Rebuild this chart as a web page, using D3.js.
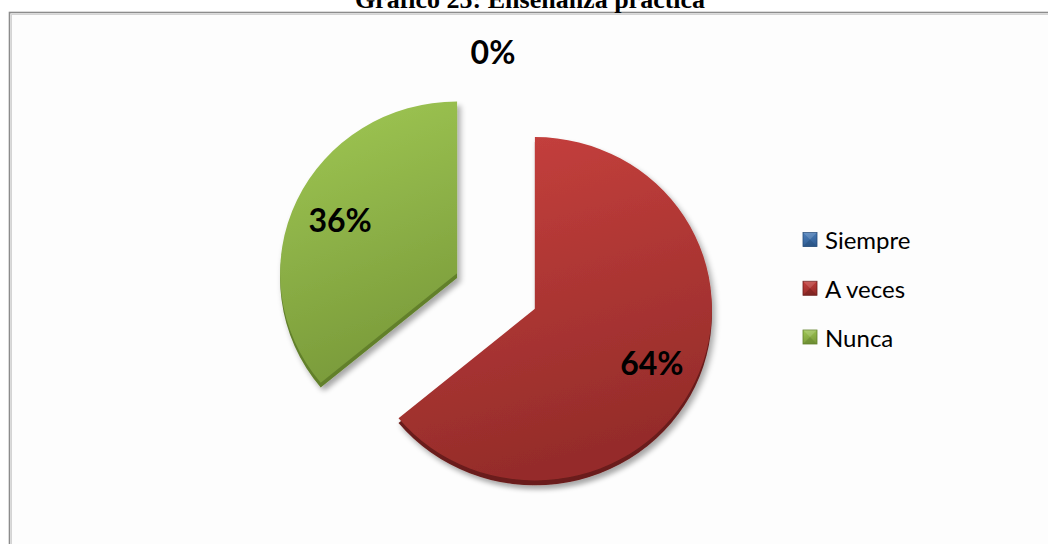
<!DOCTYPE html>
<html>
<head>
<meta charset="utf-8">
<script src="https://cdn.jsdelivr.net/npm/d3@7"></script>
<style>
  html, body { margin: 0; padding: 0; background: #ffffff; }
  svg { display: block; }
</style>
</head>
<body>
<svg id="chart" width="1048" height="544"></svg>
<script>
// Survey answers for "Enseñanza práctica"
const categories = ["Siempre", "A veces", "Nunca"];
const percentages = [0, 64, 36];
const chartTitle = "Gráfico 25: Enseñanza práctica";

// Palette: top / bottom of each slice gradient and the darker rim
const topColors = ["#4f81bd", "#c8413e", "#a0c854"];
const bottomColors = ["#2f5d93", "#952c2a", "#7b9c3b"];
const rimColors = ["#264d7a", "#6a1d1b", "#62802c"];

const svg = d3.select("#chart");
const W = 1048, H = 544;

// Frame of the chart area
svg.append("rect")
  .attr("x", 9.5).attr("y", 12.5)
  .attr("width", W + 20).attr("height", H + 20)
  .attr("fill", "#fdfdfd")
  .attr("stroke", "#8c8c8c")
  .attr("stroke-width", 1.6);
svg.append("rect")
  .attr("x", 11.5).attr("y", 14.5)
  .attr("width", W + 20).attr("height", H + 20)
  .attr("fill", "none")
  .attr("stroke", "#d4d4d4")
  .attr("stroke-width", 1);

// Title (sits above the frame)
svg.append("text")
  .attr("x", 530).attr("y", 8)
  .attr("text-anchor", "middle")
  .attr("font-family", "'Liberation Serif', 'Times New Roman', serif")
  .attr("font-weight", "bold")
  .attr("font-size", 26)
  .attr("fill", "#000")
  .text(chartTitle);

const defs = svg.append("defs");

// Soft drop shadow under the slices
const shadow = defs.append("filter").attr("id", "shadow")
  .attr("x", "-20%").attr("y", "-20%").attr("width", "140%").attr("height", "140%");
shadow.append("feGaussianBlur").attr("in", "SourceAlpha").attr("stdDeviation", 3).attr("result", "b");
shadow.append("feOffset").attr("in", "b").attr("dx", 3).attr("dy", 4).attr("result", "o");
shadow.append("feComponentTransfer").attr("in", "o").attr("result", "s")
  .append("feFuncA").attr("type", "linear").attr("slope", 0.35);
const merge = shadow.append("feMerge");
merge.append("feMergeNode").attr("in", "s");
merge.append("feMergeNode").attr("in", "SourceGraphic");

categories.forEach((c, i) => {
  const g = defs.append("linearGradient").attr("id", "grad" + i)
    .attr("x1", 0).attr("y1", 0).attr("x2", 0.25).attr("y2", 1);
  g.append("stop").attr("offset", "0%").attr("stop-color", topColors[i]);
  g.append("stop").attr("offset", "100%").attr("stop-color", bottomColors[i]);
});

// Pie geometry (slightly tilted: vertical squash)
const cx = 496, cy = 291, radius = 177, explode = 43, rim = 5, tilt = 0.97;

const pie = d3.pie().sort(null).value(d => d);
const arcs = pie(percentages);
const arc = d3.arc().innerRadius(0).outerRadius(radius);

function offsetOf(a) {
  const mid = (a.startAngle + a.endAngle) / 2;
  return [Math.sin(mid) * explode, -Math.cos(mid) * explode];
}

const slices = svg.append("g")
  .attr("transform", `translate(${cx},${cy}) scale(1,${tilt})`);

arcs.forEach((a, i) => {
  if (a.value <= 0) return;
  const [dx, dy] = offsetOf(a);
  const g = slices.append("g")
    .attr("transform", `translate(${dx},${dy})`)
    .attr("filter", "url(#shadow)");
  // darker rim beneath the face gives the bevelled thickness
  g.append("path")
    .attr("d", arc(a))
    .attr("transform", `translate(0,${rim})`)
    .attr("fill", rimColors[i]);
  g.append("path")
    .attr("d", arc(a))
    .attr("fill", `url(#grad${i})`);
});

// Percentage labels
const labelFont = "Lato, 'Open Sans', sans-serif";
arcs.forEach((a, i) => {
  const [dx, dy] = offsetOf(a);
  const mid = (a.startAngle + a.endAngle) / 2;
  const d = a.value > 0 ? radius * 0.73 : radius + 27;
  const x = cx + dx + Math.sin(mid) * d;
  const y = cy + (dy - Math.cos(mid) * d) * tilt;
  svg.append("text")
    .attr("x", a.value > 0 ? x : x - 3)
    .attr("y", y)
    .attr("text-anchor", "middle")
    .attr("dominant-baseline", "central")
    .attr("font-family", labelFont)
    .attr("font-weight", "bold")
    .attr("font-size", 32)
    .attr("fill", "#000")
    .text(`${percentages[i]}%`);
});

// Legend
const legendY = d3.scalePoint().domain(categories).range([239.5, 337]);
const legend = svg.append("g");
categories.forEach((c, i) => {
  const y = legendY(c);
  const item = legend.append("g").attr("transform", `translate(803,${y - 7})`);
  item.append("rect")
    .attr("width", 14).attr("height", 14)
    .attr("fill", `url(#grad${i})`)
    .attr("stroke", rimColors[i]).attr("stroke-width", 0.8);
  // bevel: darker lower triangle
  item.append("path")
    .attr("d", "M0,14 L7,7 L14,14 Z")
    .attr("fill", rimColors[i]).attr("opacity", 0.45);
  item.append("path")
    .attr("d", "M0,0 L7,7 L14,0 Z")
    .attr("fill", "#ffffff").attr("opacity", 0.15);
  legend.append("text")
    .attr("x", 825).attr("y", y)
    .attr("dominant-baseline", "central")
    .attr("font-family", labelFont)
    .attr("font-size", 24)
    .attr("fill", "#000")
    .text(c);
});
</script>
</body>
</html>
